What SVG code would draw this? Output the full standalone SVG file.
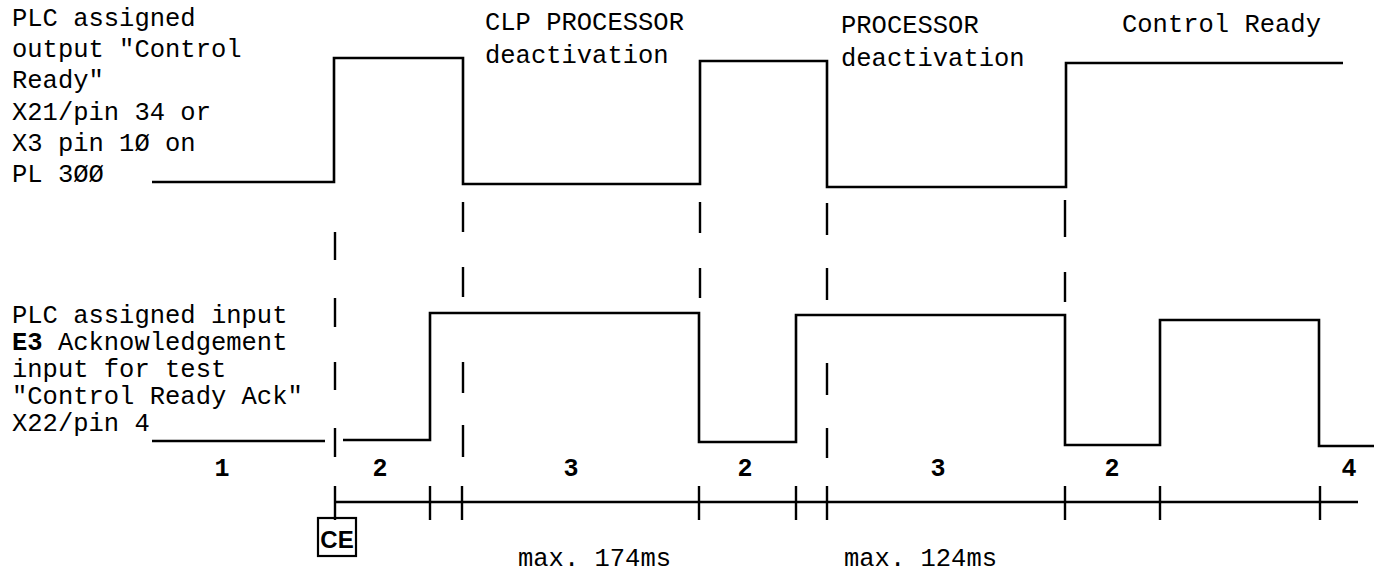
<svg xmlns="http://www.w3.org/2000/svg" width="1381" height="579" viewBox="0 0 1381 579">
<style>
.t{font-family:"Liberation Mono",monospace;font-size:25.5px;fill:#000}
.n{font-family:"Liberation Mono",monospace;font-size:25px;font-weight:bold;fill:#000;text-anchor:middle}
.sig{fill:none;stroke:#000;stroke-width:2.6;stroke-linejoin:miter}
.dash{fill:none;stroke:#000;stroke-width:2.4}
.axis{fill:none;stroke:#000;stroke-width:2.4}
</style>
<rect width="1381" height="579" fill="#fff"/>
<g id="label-output">
<text class="t" x="12" y="26">PLC assigned</text>
<text class="t" x="12" y="57">output "Control</text>
<text class="t" x="12" y="88">Ready"</text>
<text class="t" x="12" y="120">X21/pin 34 or</text>
<text class="t" x="12" y="151">X3 pin 1Ø on</text>
<text class="t" x="12" y="182">PL 3ØØ</text>
</g>
<g id="label-input">
<text class="t" x="12" y="323">PLC assigned input</text>
<text class="t" x="12" y="350"><tspan font-weight="bold">E3</tspan> Acknowledgement</text>
<text class="t" x="12" y="377">input for test</text>
<text class="t" x="12" y="404">"Control Ready Ack"</text>
<text class="t" x="12" y="431">X22/pin 4</text>
</g>
<g id="phase-labels">
<text class="t" x="485" y="30">CLP PROCESSOR</text>
<text class="t" x="485" y="63">deactivation</text>
<text class="t" x="841" y="33">PROCESSOR</text>
<text class="t" x="841" y="66">deactivation</text>
<text class="t" x="1122" y="32">Control Ready</text>
</g>
<g id="signal-output">
<path class="sig" d="M152,182 H334 V58 H463 V184 H700 V61 H827 V187 H1066 V63 H1343"/>
</g>
<g id="signal-input">
<path class="sig" d="M152,441 H325 M343,440 H430 V313 H699 V442 H796 V315 H1065 V445 H1160 V320 H1319 V446 H1374"/>
</g>
<g id="connectors">
<path class="dash" d="M335,232 V260 M335,298 V327 M335,362 V390 M335,428 V457"/>
<path class="dash" d="M463,202 V232 M463,267 V297 M463,362 V393 M463,425 V457"/>
<path class="dash" d="M700,202 V233 M700,268 V298"/>
<path class="dash" d="M827,203 V235 M827,268 V300 M827,363 V395 M827,428 V458"/>
<path class="dash" d="M1065,200 V237 M1065,272 V302"/>
</g>
<g id="timeline">
<path class="axis" d="M335,502 H1358"/>
<path class="axis" d="M335,486 V520 M430,486 V520 M462,486 V520 M699,486 V520 M796,486 V520 M827,486 V520 M1065,486 V520 M1160,486 V520 M1320,486 V520"/>
<text class="n" x="222" y="476">1</text>
<text class="n" x="380" y="476">2</text>
<text class="n" x="571" y="476">3</text>
<text class="n" x="745" y="476">2</text>
<text class="n" x="938" y="476">3</text>
<text class="n" x="1112" y="476">2</text>
<text class="n" x="1349" y="476">4</text>
</g>
<g id="ce-mark">
<rect x="318" y="518" width="38" height="38" fill="none" stroke="#000" stroke-width="2.2"/>
<text x="337" y="548" font-family="Liberation Sans,Arial,sans-serif" font-size="24" font-weight="bold" text-anchor="middle">CE</text>
</g>
<g id="durations">
<text class="t" x="518" y="566">max. 174ms</text>
<text class="t" x="844" y="566">max. 124ms</text>
</g>
</svg>
